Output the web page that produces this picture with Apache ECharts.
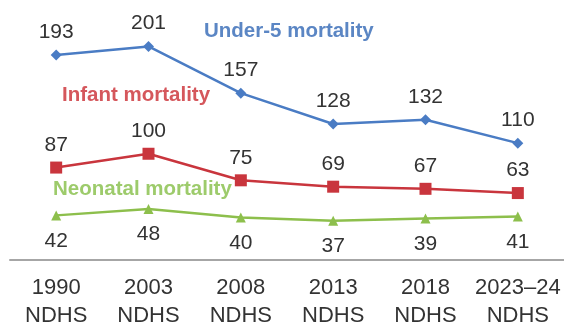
<!DOCTYPE html>
<html>
<head>
<meta charset="utf-8">
<script src="https://cdn.jsdelivr.net/npm/echarts@6/dist/echarts.min.js"></script>
<style>
  html, body { margin: 0; padding: 0; background: #fff; }
  #chart { width: 564px; height: 323px; }
</style>
</head>
<body>
<div id="chart"></div>
<script>
// Survey rounds (x axis)
const surveys = ['1990\nNDHS', '2003\nNDHS', '2008\nNDHS', '2013\nNDHS', '2018\nNDHS', '2023\u201324\nNDHS'];

// Deaths per 1,000 live births
const under5 = [193, 201, 157, 128, 132, 110];
const infant = [87, 100, 75, 69, 67, 63];
const neonatal = [42, 48, 40, 37, 39, 41];

const FONT = '"Liberation Sans", Arial, sans-serif';
const labelStyle = (pos, dist) => ({
  show: true,
  position: pos,
  distance: dist,
  fontSize: 21,
  fontFamily: FONT,
  color: '#333'
});

const chart = echarts.init(document.getElementById('chart'), null, { renderer: 'canvas' });

chart.setOption({
  animation: false,
  backgroundColor: '#fff',
  grid: { left: 10, right: 0, top: 5, bottom: 63, containLabel: false, outerBoundsMode: 'none' },
  xAxis: {
    type: 'category',
    data: surveys,
    boundaryGap: true,
    axisLine: { lineStyle: { color: '#a6a6a6', width: 2 } },
    axisTick: { show: false },
    axisLabel: {
      interval: 0,
      hideOverlap: false,
      color: '#333',
      fontSize: 22,
      fontFamily: FONT,
      lineHeight: 28,
      margin: 14
    }
  },
  yAxis: {
    type: 'value',
    min: 0,
    max: 240,
    show: false,
    splitLine: { show: false }
  },
  series: [
    {
      name: 'Under-5 mortality',
      type: 'line',
      data: under5,
      symbol: 'diamond',
      symbolSize: 11,
      color: '#4a7cc4',
      lineStyle: { width: 2.5, color: '#4a7cc4' },
      label: labelStyle('top', 7)
    },
    {
      name: 'Infant mortality',
      type: 'line',
      data: infant,
      symbol: 'rect',
      symbolSize: 12,
      color: '#c9353d',
      lineStyle: { width: 2.5, color: '#c9353d' },
      label: labelStyle('top', 6)
    },
    {
      name: 'Neonatal mortality',
      type: 'line',
      data: neonatal,
      symbol: 'triangle',
      symbolSize: 10,
      color: '#8dbf4c',
      lineStyle: { width: 2.5, color: '#8dbf4c' },
      label: labelStyle('bottom', 10)
    }
  ],
  graphic: [
    {
      type: 'text', left: 204, top: 21,
      style: { text: 'Under-5 mortality', font: 'bold 20.5px ' + FONT, fill: '#5b86c4' }
    },
    {
      type: 'text', left: 62, top: 85,
      style: { text: 'Infant mortality', font: 'bold 20.5px ' + FONT, fill: '#d5575c' }
    },
    {
      type: 'text', left: 53, top: 179,
      style: { text: 'Neonatal mortality', font: 'bold 20.5px ' + FONT, fill: '#9dcb6b' }
    }
  ]
});
</script>
</body>
</html>
